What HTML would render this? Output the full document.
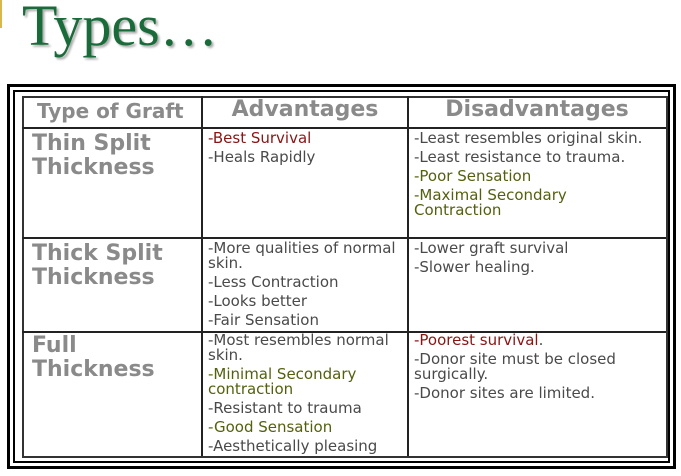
<!DOCTYPE html>
<html><head><meta charset="utf-8"><style>
body{margin:0;width:681px;height:476px;background:#fff;position:relative;overflow:hidden;font-family:"DejaVu Sans",sans-serif}
.a{position:absolute;white-space:nowrap;font-size:15px;line-height:15px;color:#4a4a4a}
.r{color:#8a1414}.g{color:#55600e}
.h{position:absolute;white-space:nowrap;font-weight:bold;color:#8a8a8a;line-height:1}
.b{position:absolute;background:#222}
</style></head><body>
<div style="position:absolute;left:0;top:0;width:2px;height:28px;background:#d8b84a"></div>
<div style="position:absolute;left:22px;top:-3px;font-family:'Liberation Serif',serif;font-size:58px;line-height:58px;color:#1a6b3a;text-shadow:2px 2px 2px #aaa">Types…</div>
<div style="position:absolute;left:7px;top:84px;width:663px;height:379px;border:3px solid #000"></div>
<div style="position:absolute;left:13px;top:90px;width:653px;height:369px;border:2px solid #000"></div>
<div style="position:absolute;left:22px;top:96px;width:642px;height:358px;border:2px solid #333"></div>
<div class="b" style="left:201px;top:96px;width:2px;height:360px"></div>
<div class="b" style="left:407px;top:96px;width:2px;height:360px"></div>
<div class="b" style="left:22px;top:127px;width:644px;height:2px"></div>
<div class="b" style="left:22px;top:237px;width:644px;height:2px"></div>
<div class="b" style="left:22px;top:331px;width:644px;height:2px"></div>
<div class="h" style="left:37px;top:101px;font-size:20px">Type of Graft</div>
<div class="h" style="left:203px;width:204px;text-align:center;top:99px;font-size:22px">Advantages</div>
<div class="h" style="left:409px;width:256px;text-align:center;top:99px;font-size:22px">Disadvantages</div>
<div class="h" style="left:32px;top:133px;font-size:22px">Thin Split</div>
<div class="h" style="left:32px;top:157px;font-size:22px">Thickness</div>
<div class="h" style="left:32px;top:243px;font-size:22px">Thick Split</div>
<div class="h" style="left:32px;top:267px;font-size:22px">Thickness</div>
<div class="h" style="left:32px;top:335px;font-size:22px">Full</div>
<div class="h" style="left:32px;top:359px;font-size:22px">Thickness</div>
<div class="a r" style="left:208px;top:131px">-Best Survival</div>
<div class="a" style="left:208px;top:150px">-Heals Rapidly</div>
<div class="a" style="left:414px;top:131px">-Least resembles original skin.</div>
<div class="a" style="left:414px;top:150px">-Least resistance to trauma.</div>
<div class="a g" style="left:414px;top:169px">-Poor Sensation</div>
<div class="a g" style="left:414px;top:188px">-Maximal Secondary</div>
<div class="a g" style="left:414px;top:203px">Contraction</div>
<div class="a" style="left:208px;top:241px">-More qualities of normal</div>
<div class="a" style="left:208px;top:256px">skin.</div>
<div class="a" style="left:208px;top:275px">-Less Contraction</div>
<div class="a" style="left:208px;top:294px">-Looks better</div>
<div class="a" style="left:208px;top:313px">-Fair Sensation</div>
<div class="a" style="left:414px;top:241px">-Lower graft survival</div>
<div class="a" style="left:414px;top:260px">-Slower healing.</div>
<div class="a" style="left:208px;top:333px">-Most resembles normal</div>
<div class="a" style="left:208px;top:348px">skin.</div>
<div class="a g" style="left:208px;top:367px">-Minimal Secondary</div>
<div class="a g" style="left:208px;top:382px">contraction</div>
<div class="a" style="left:208px;top:401px">-Resistant to trauma</div>
<div class="a g" style="left:208px;top:420px">-Good Sensation</div>
<div class="a" style="left:208px;top:439px">-Aesthetically pleasing</div>
<div class="a" style="left:414px;top:333px"><span class="r">-Poorest survival</span>.</div>
<div class="a" style="left:414px;top:352px">-Donor site must be closed</div>
<div class="a" style="left:414px;top:367px">surgically.</div>
<div class="a" style="left:414px;top:386px">-Donor sites are limited.</div>
</body></html>
